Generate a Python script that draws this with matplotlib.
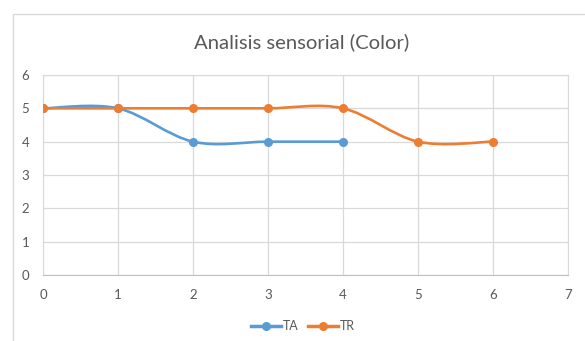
import matplotlib
matplotlib.use('Agg')
import matplotlib.pyplot as plt
from matplotlib.path import Path
from matplotlib.patches import PathPatch, Rectangle
from matplotlib.lines import Line2D

colors = {'TA': '#5B9BD5', 'TR': '#ED7D31', 'grid': '#D9D9D9', 'text': '#595959'}

title = 'Analisis sensorial (Color)'
series_names = ['TA', 'TR']
ta_x = [0, 1, 2, 3, 4]
ta_y = [5, 5, 4, 4, 4]
tr_x = [0, 1, 2, 3, 4, 5, 6]
tr_y = [5, 5, 5, 5, 5, 4, 4]
x_ticks = [0, 1, 2, 3, 4, 5, 6, 7]
y_ticks = [0, 1, 2, 3, 4, 5, 6]

plt.rcParams['font.family'] = ['Lato', 'DejaVu Sans']


def smooth_path(xs, ys):
    """Excel-like smoothed line: cubic bezier through the points."""
    pts = list(zip(xs, ys))
    verts = [pts[0]]
    codes = [Path.MOVETO]
    n = len(pts)
    for i in range(n - 1):
        p0 = pts[i - 1] if i > 0 else pts[i]
        p1 = pts[i]
        p2 = pts[i + 1]
        p3 = pts[i + 2] if i + 2 < n else pts[i + 1]
        c1 = (p1[0] + (p2[0] - p0[0]) / 6.0, p1[1] + (p2[1] - p0[1]) / 6.0)
        c2 = (p2[0] - (p3[0] - p1[0]) / 6.0, p2[1] - (p3[1] - p1[1]) / 6.0)
        verts += [c1, c2, p2]
        codes += [Path.CURVE4] * 3
    return Path(verts, codes)


fig = plt.figure(figsize=(5.85, 3.41), dpi=100)
fig.patches.append(Rectangle((13 / 585, -0.05), 1.2, (341 - 14) / 341 + 0.05,
                             transform=fig.transFigure, fill=False,
                             edgecolor=colors['grid'], linewidth=1.0))

ax = fig.add_axes([43 / 585, 66 / 341, 525 / 585, 200 / 341])

for name, xs, ys in [('TA', ta_x, ta_y), ('TR', tr_x, tr_y)]:
    ax.add_patch(PathPatch(smooth_path(xs, ys), fill=False,
                           edgecolor=colors[name], linewidth=1.9,
                           capstyle='round', zorder=3))
    ax.plot(xs, ys, linestyle='none', marker='o', markersize=5.5,
            color=colors[name], zorder=4)

ax.set_xlim(0, 7)
ax.set_ylim(0, 6)
ax.set_xticks(x_ticks)
ax.set_yticks(y_ticks)
ax.grid(True, color=colors['grid'], linewidth=0.9)
ax.set_axisbelow(True)
for key in ax.spines.keys():
    ax.spines[key].set_color(colors['grid'])
ax.spines['bottom'].set_color('#BFBFBF')
ax.tick_params(length=0, labelsize=9.5, labelcolor=colors['text'])
ax.tick_params(axis='x', pad=10)
ax.tick_params(axis='y', pad=10)

fig.text(0.515, 1 - 42 / 341, title, ha='center', va='center',
         fontsize=14.6, color=colors['text'])

handles = [Line2D([], [], color=colors[n], linewidth=2.5, marker='o',
                  markersize=5.5) for n in series_names]
fig.legend(handles, series_names, loc='center', bbox_to_anchor=(303 / 585, 1 - 326 / 341),
           ncol=2, frameon=False, fontsize=9, labelcolor=colors['text'],
           handlelength=2.4, handletextpad=0.1, columnspacing=0.8)

fig.savefig('out.png', dpi=100)
